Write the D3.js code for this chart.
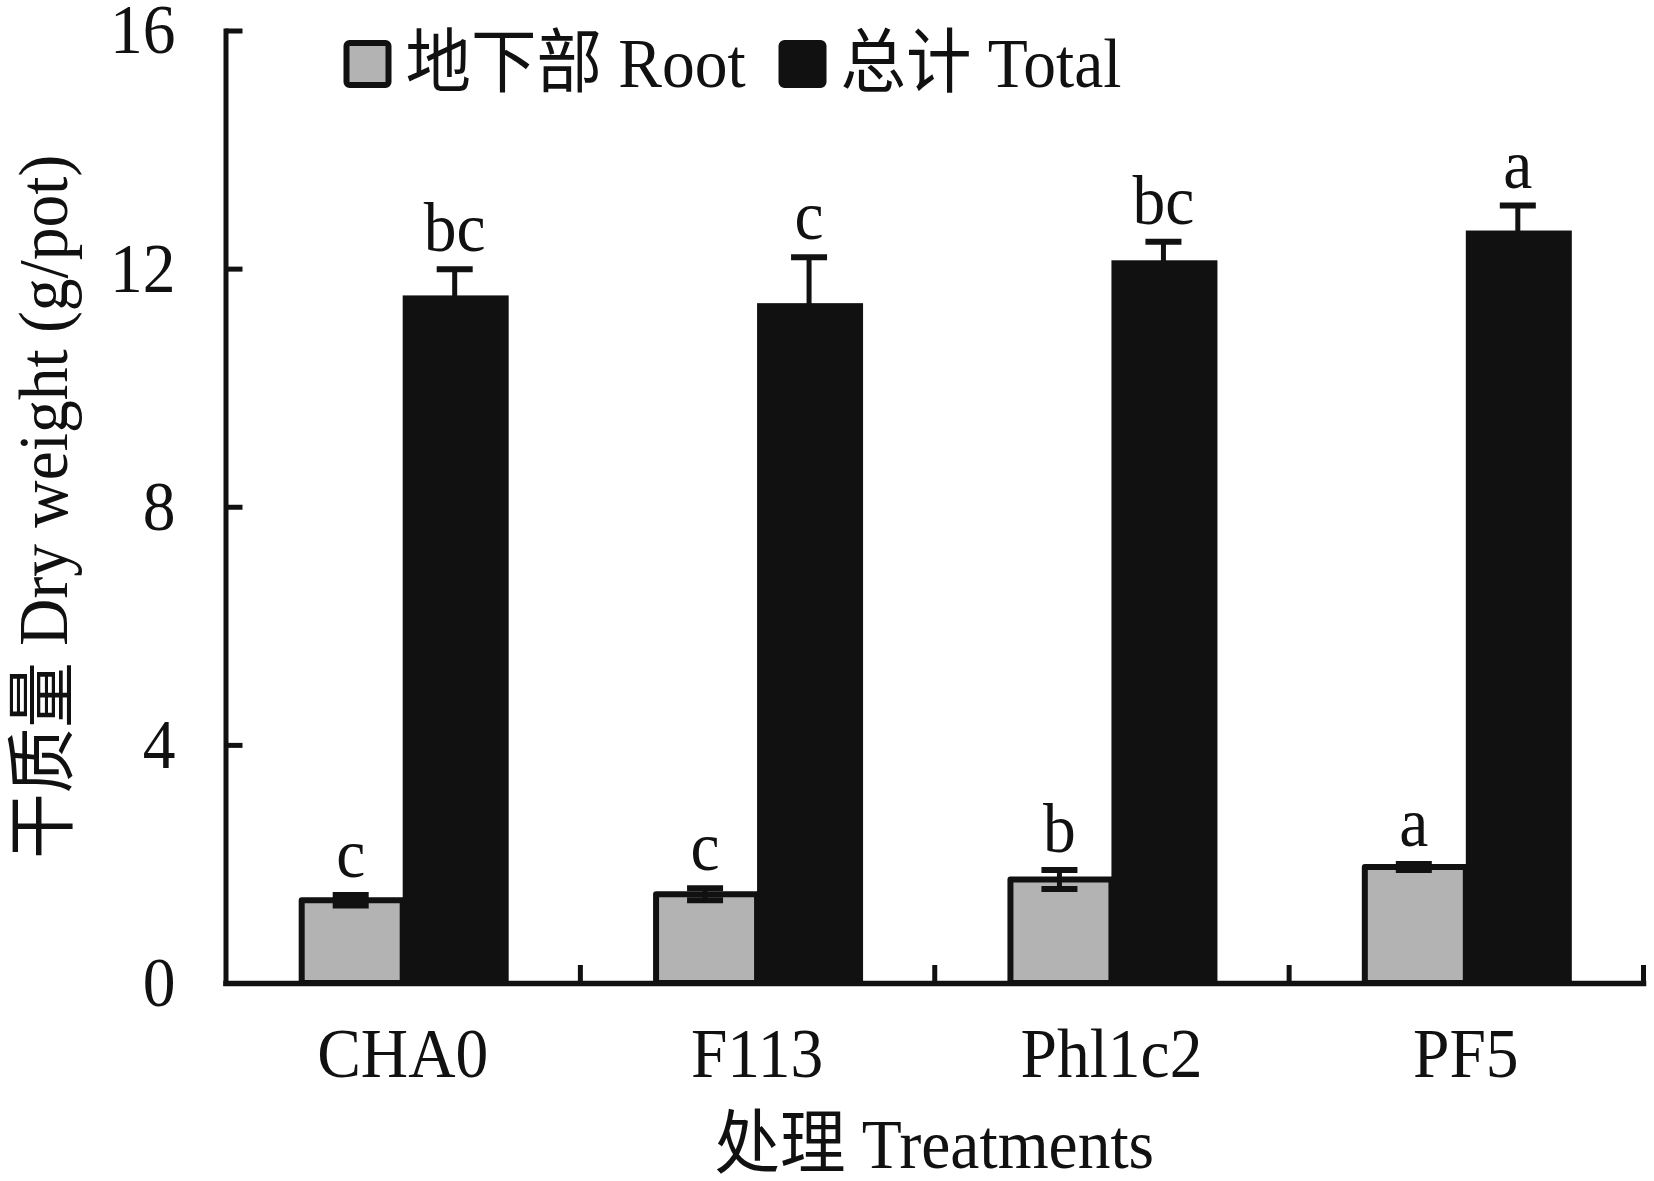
<!DOCTYPE html>
<html>
<head>
<meta charset="utf-8">
<script src="https://cdn.jsdelivr.net/npm/d3@7"></script>
<style>
  body { margin: 0; background: #fff; }
  text { font-family: "Liberation Serif", "Noto Sans CJK SC", serif; fill: #111; }
</style>
</head>
<body>
<div id="my_dataviz"></div>
<script>
const categories = ["CHA0", "F113", "Phl1c2", "PF5"];
const rootMean = [1.39, 1.49, 1.74, 1.95];
const rootErr = [0.09, 0.10, 0.16, 0.05];
const totalMean = [11.55, 11.42, 12.14, 12.64];
const totalErr = [0.44, 0.77, 0.31, 0.42];
const rootLetters = ["c", "c", "b", "a"];
const totalLetters = ["bc", "c", "bc", "a"];
const yTicks = [0, 4, 8, 12, 16];
const legendLabels = ["地下部 Root", "总计 Total"];

var W = 1654, H = 1181;
// note: "top" is taken by window.top, so plot edges get their own names
var pLeft = 225.5, pRight = 1643, pTop = 30.5, pBottom = 983;
var fs = 65.5, stretch = 1.07;   // text in the picture is a bit taller than wide
var grey = "#b3b3b3", dark = "#111";

var svg = d3.select("#my_dataviz").append("svg")
  .attr("width", W)
  .attr("height", H);

var x = d3.scaleBand().domain(categories).range([pLeft, pRight]).padding(0);
var y = d3.scaleLinear().domain([0, 16]).range([pBottom, pTop]);
// boundaries between the groups, for the small ticks on the x axis
var xb = d3.scaleLinear().domain([0, categories.length]).range([pLeft, pRight]);

var barW = 104;

// bars
var groups = svg.selectAll(".grp")
  .data(categories)
  .enter()
  .append("g")
  .attr("class", "grp");

groups.append("rect")
  .attr("x", (d) => x(d) + x.bandwidth() / 2 - barW + 3)
  .attr("y", (d, i) => y(rootMean[i]))
  .attr("width", barW - 3)
  .attr("height", (d, i) => y(0) - y(rootMean[i]))
  .attr("fill", grey)
  .attr("stroke", dark)
  .attr("stroke-width", 6)
  .attr("stroke-linejoin", "round");

groups.append("rect")
  .attr("x", (d) => x(d) + x.bandwidth() / 2)
  .attr("y", (d, i) => y(totalMean[i]))
  .attr("width", barW + 2)
  .attr("height", (d, i) => y(0) - y(totalMean[i]))
  .attr("fill", dark);

// error bars
function errorBars(means, errs, dx) {
  var eb = svg.selectAll(null)
    .data(categories)
    .enter()
    .append("g")
    .attr("transform", (d) => `translate(${x(d) + x.bandwidth() / 2 + dx},0)`);
  eb.append("line")
    .attr("y1", (d, i) => y(means[i] - errs[i]))
    .attr("y2", (d, i) => y(means[i] + errs[i]))
    .attr("stroke", dark)
    .attr("stroke-width", 5);
  [1, -1].forEach(function(s) {
    eb.append("line")
      .attr("x1", -18).attr("x2", 18)
      .attr("y1", (d, i) => y(means[i] + s * errs[i]))
      .attr("y2", (d, i) => y(means[i] + s * errs[i]))
      .attr("stroke", dark)
      .attr("stroke-width", 6);
  });
}
errorBars(rootMean, rootErr, -barW / 2);
errorBars(totalMean, totalErr, barW / 2);

// significance letters
function letters(means, errs, labs, dx) {
  svg.selectAll(null)
    .data(categories)
    .enter()
    .append("text")
    .attr("transform", (d, i) => `translate(${x(d) + x.bandwidth() / 2 + dx},${y(means[i] + errs[i]) - 18}) scale(1,${stretch})`)
    .attr("text-anchor", "middle")
    .style("font-size", fs + "px")
    .text((d, i) => labs[i]);
}
letters(rootMean, rootErr, rootLetters, -barW / 2);
letters(totalMean, totalErr, totalLetters, barW / 2);

// Y axis
var yAxis = svg.append("g")
  .attr("transform", `translate(${pLeft},0)`)
  .call(d3.axisLeft(y).tickValues(yTicks).tickSize(-17).tickSizeOuter(0).tickPadding(50));
yAxis.selectAll("line").attr("stroke", dark).attr("stroke-width", 5);
yAxis.select(".domain").attr("stroke", dark).attr("stroke-width", 5).attr("stroke-linecap", "square");
yAxis.selectAll("text")
  .style("font-size", fs + "px")
  .attr("fill", dark)
  .attr("transform", `scale(1,${stretch})`);

// X axis: line and group boundary ticks
var xAxisLine = svg.append("g")
  .attr("transform", `translate(0,${pBottom})`)
  .call(d3.axisBottom(xb).tickValues([1, 2, 3, 4]).tickSize(-18).tickSizeOuter(0).tickFormat(""));
xAxisLine.selectAll("line").attr("stroke", dark).attr("stroke-width", 5);
xAxisLine.select(".domain").attr("stroke", dark).attr("stroke-width", 5.5).attr("stroke-linecap", "square");

// X axis: category labels
var xAxis = svg.append("g")
  .attr("transform", `translate(0,${pBottom})`)
  .call(d3.axisBottom(x).tickSize(0));
xAxis.select(".domain").remove();
xAxis.selectAll("text")
  .style("font-size", fs + "px")
  .attr("fill", dark)
  .attr("dy", null)
  .attr("y", 94 / stretch)
  .attr("transform", `scale(1,${stretch})`);

// axis titles
svg.append("text")
  .attr("transform", `translate(${(pLeft + pRight) / 2},1168) scale(1,${stretch})`)
  .attr("text-anchor", "middle")
  .style("font-size", fs + "px")
  .text("处理 Treatments");

svg.append("text")
  .attr("transform", `translate(67,${(pTop + pBottom) / 2}) rotate(-90) scale(1,${stretch})`)
  .attr("text-anchor", "middle")
  .style("font-size", fs + "px")
  .text("干质量 Dry weight (g/pot)");

// legend
var legendX = [346.5, 781.5];
var legendFill = [grey, dark];
var legend = svg.selectAll(".legend")
  .data(legendLabels)
  .enter()
  .append("g")
  .attr("class", "legend")
  .attr("transform", (d, i) => `translate(${legendX[i]},43)`);

legend.append("rect")
  .attr("width", 42)
  .attr("height", 42)
  .attr("rx", 3)
  .attr("fill", (d, i) => legendFill[i])
  .attr("stroke", dark)
  .attr("stroke-width", 6);

legend.append("text")
  .attr("transform", `translate(59,44) scale(1,${stretch})`)
  .style("font-size", fs + "px")
  .text((d) => d);
</script>
</body>
</html>
